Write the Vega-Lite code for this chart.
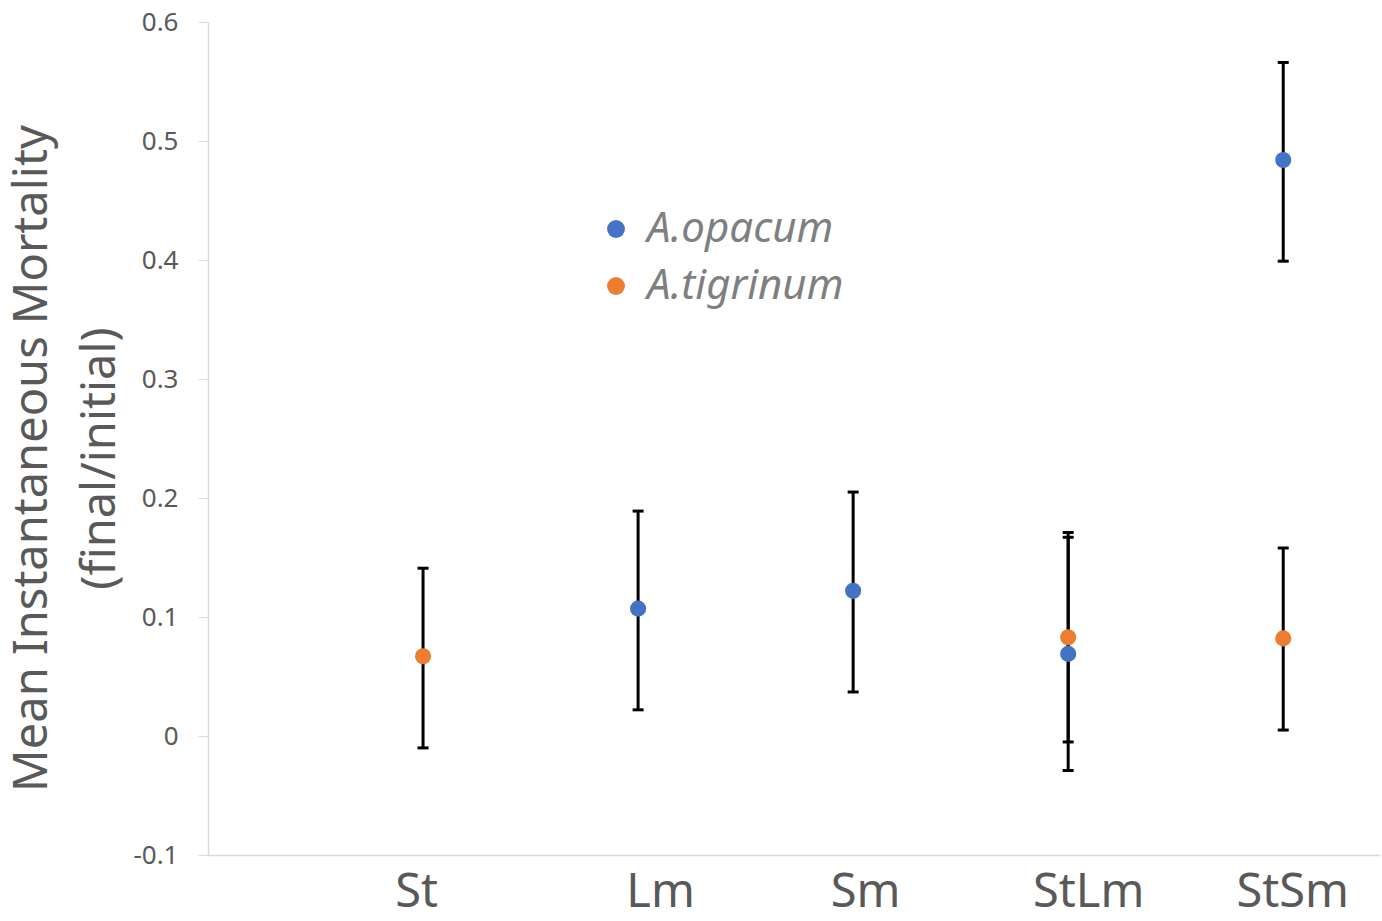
{
  "$schema": "https://vega.github.io/schema/vega-lite/v6.json",
  "width": 1172,
  "height": 833,
  "autosize": {"type": "none"},
  "padding": {"left": 208, "top": 22, "right": 2, "bottom": 66},
  "background": "white",
  "config": {
    "view": {"stroke": null},
    "font": "Noto Sans",
    "axis": {"grid": false}
  },
  "data": {
    "values": [
      {"cat": "St", "pos": 1, "species": "A.tigrinum", "mean": 0.067, "lo": -0.010, "hi": 0.141},
      {"cat": "Lm", "pos": 2, "species": "A.opacum", "mean": 0.107, "lo": 0.022, "hi": 0.189},
      {"cat": "Sm", "pos": 3, "species": "A.opacum", "mean": 0.122, "lo": 0.037, "hi": 0.205},
      {"cat": "StLm", "pos": 4, "species": "A.opacum", "mean": 0.069, "lo": -0.029, "hi": 0.167},
      {"cat": "StLm", "pos": 4, "species": "A.tigrinum", "mean": 0.083, "lo": -0.005, "hi": 0.171},
      {"cat": "StSm", "pos": 5, "species": "A.opacum", "mean": 0.484, "lo": 0.399, "hi": 0.566},
      {"cat": "StSm", "pos": 5, "species": "A.tigrinum", "mean": 0.082, "lo": 0.005, "hi": 0.158}
    ]
  },
  "encoding": {
    "x": {
      "field": "pos",
      "type": "quantitative",
      "scale": {"domain": [0, 5.45], "nice": false, "zero": false},
      "axis": {
        "title": null,
        "values": [1, 2, 3, 4, 5],
        "labelExpr": "['', 'St', 'Lm', 'Sm', 'StLm', 'StSm'][datum.value]",
        "labelOffset": {"expr": "[0, -7, 22, 12, 20, 9][datum.value]"},
        "ticks": false,
        "labelFontSize": 47,
        "labelColor": "#595959",
        "labelPadding": 14,
        "domainColor": "#d9d9d9",
        "domainWidth": 1.5
      }
    }
  },
  "layer": [
    {
      "mark": {"type": "rule", "color": "black", "strokeWidth": 3},
      "encoding": {
        "y": {"field": "lo", "type": "quantitative"},
        "y2": {"field": "hi"}
      }
    },
    {
      "mark": {"type": "tick", "orient": "horizontal", "color": "black", "thickness": 3, "size": 11, "opacity": 1},
      "encoding": {"y": {"field": "lo", "type": "quantitative"}}
    },
    {
      "mark": {"type": "tick", "orient": "horizontal", "color": "black", "thickness": 3, "size": 11, "opacity": 1},
      "encoding": {"y": {"field": "hi", "type": "quantitative"}}
    },
    {
      "mark": {"type": "point", "shape": "circle", "filled": true, "opacity": 1, "size": 260},
      "encoding": {
        "y": {
          "field": "mean",
          "type": "quantitative",
          "scale": {"domain": [-0.1, 0.6], "nice": false, "zero": false},
          "axis": {
            "title": ["Mean Instantaneous Mortality", "(final/initial)"],
            "titleFontSize": 47,
            "titleFontWeight": "normal",
            "titleColor": "#595959",
            "titleLineHeight": 68,
            "titlePadding": 8,
            "titleY": 436,
            "values": [-0.1, 0, 0.1, 0.2, 0.3, 0.4, 0.5, 0.6],
            "labelExpr": "datum.value == 0 ? '0' : (datum.value < 0 ? '-' + format(-datum.value, '.1f') : format(datum.value, '.1f'))",
            "labelFontSize": 26,
            "labelColor": "#595959",
            "labelPadding": 20,
            "tickSize": 10,
            "tickColor": "#d9d9d9",
            "domainColor": "#d9d9d9",
            "domainWidth": 1.5
          }
        },
        "color": {
          "field": "species",
          "type": "nominal",
          "scale": {"domain": ["A.opacum", "A.tigrinum"], "range": ["#4472C4", "#ED7D31"]},
          "legend": {
            "title": null,
            "orient": "none",
            "legendX": 387,
            "legendY": 186,
            "symbolType": "circle",
            "symbolSize": 320,
            "symbolStrokeWidth": 0,
            "labelFontSize": 42,
            "labelFontStyle": "italic",
            "labelColor": "#7f7f7f",
            "labelOffset": 10,
            "rowPadding": 15,
            "labelLimit": 400
          }
        }
      }
    }
  ]
}
